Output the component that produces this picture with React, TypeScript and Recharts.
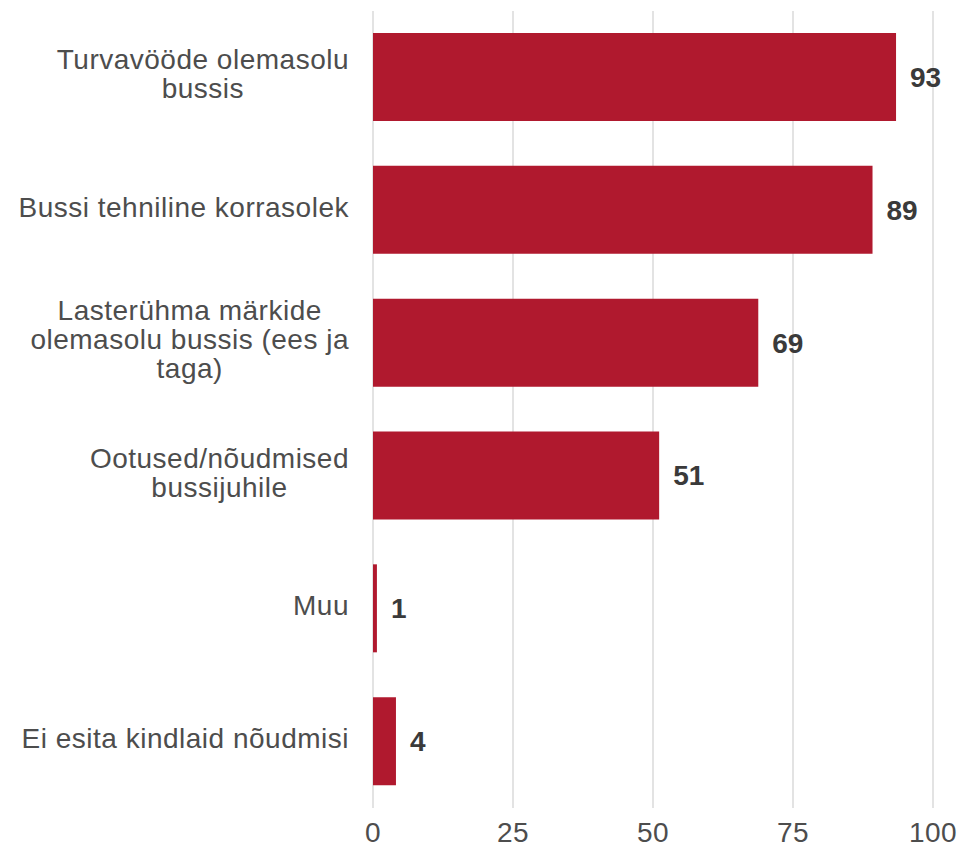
import React from "react"
import { BarChart, Bar, XAxis, YAxis, CartesianGrid, LabelList } from "recharts"

const categories = [
  "Turvavööde olemasolu\nbussis",
  "Bussi tehniline korrasolek",
  "Lasterühma märkide\nolemasolu bussis (ees ja\ntaga)",
  "Ootused/nõudmised\nbussijuhile",
  "Muu",
  "Ei esita kindlaid nõudmisi",
]
const shares = [93.4, 89.2, 68.8, 51.1, 0.7, 4.1]
const xTicks = [0, 25, 50, 75, 100]

const data = categories.map((name, i) => ({ name, value: shares[i] }))

const FONT = "'Liberation Sans', Arial, Helvetica, sans-serif"
const FONT_SIZE = 28
const SPACING = 0.5
const LINE_H = 29

let ctx: CanvasRenderingContext2D | null = null
function textWidth(s: string) {
  if (!ctx) ctx = document.createElement("canvas").getContext("2d")
  if (!ctx) return s.length * FONT_SIZE * 0.5
  ctx.font = `${FONT_SIZE}px 'Liberation Sans'`
  return ctx.measureText(s).width + s.length * SPACING
}

function CategoryTick(props: any) {
  const { x, y, payload } = props
  const lines: string[] = String(payload.value).split("\n")
  const blockW = Math.max(...lines.map(textWidth))
  const right = x - 16
  const cx = right - blockW / 2
  const top = y - ((lines.length - 1) * LINE_H) / 2 - 2
  return (
    <g>
      {lines.map((l, i) => (
        <text
          key={i}
          x={cx}
          y={top + i * LINE_H}
          dy="0.3em"
          textAnchor="middle"
          fontSize={FONT_SIZE}
          fontFamily={FONT}
          letterSpacing={SPACING}
          fill="#4d4d4d"
        >
          {l}
        </text>
      ))}
    </g>
  )
}

export default function App() {
  return (
    <div style={{ position: "absolute", left: 0, top: 0, fontFamily: FONT, background: "#fff" }}>
      <BarChart
        width={961}
        height={847}
        data={data}
        layout="vertical"
        margin={{ top: 11, right: 28, bottom: 0, left: 0 }}
      >
        <CartesianGrid horizontal={false} stroke="#e3e3e3" strokeWidth={2} />
        <XAxis
          type="number"
          domain={[0, 100]}
          ticks={xTicks}
          axisLine={false}
          tickLine={false}
          height={39}
          tickMargin={8}
          tick={{ fontSize: FONT_SIZE, fill: "#4d4d4d", fontFamily: FONT, letterSpacing: SPACING }}
        />
        <YAxis
          type="category"
          dataKey="name"
          width={373}
          axisLine={false}
          tickLine={false}
          interval={0}
          tick={<CategoryTick />}
        />
        <Bar dataKey="value" fill="#b0192e" barSize={88} isAnimationActive={false}>
          <LabelList
            dataKey="value"
            position="right"
            offset={14}
            formatter={(v: any) => Math.round(Number(v))}
            style={{ fontSize: FONT_SIZE, fontWeight: 700, fill: "#3a3a3a", fontFamily: FONT }}
          />
        </Bar>
      </BarChart>
    </div>
  )
}
